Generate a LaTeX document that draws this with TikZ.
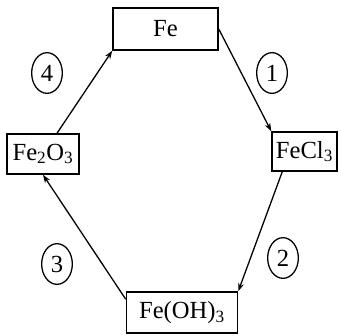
\documentclass[tikz,border=0pt]{standalone}
\usepackage{fontspec}
\setmainfont{Liberation Serif}
\usetikzlibrary{arrows.meta,positioning,shapes.geometric}

\begin{document}
\begin{tikzpicture}[
  x=0.03cm, y=-0.03cm,
  box/.style={draw,line width=1.3pt,inner sep=0pt,font=\fontsize{21}{24}\selectfont},
  num/.style={draw,ellipse,line width=1.1pt,inner sep=0pt,minimum width=0.92cm,minimum height=1.22cm,font=\fontsize{21}{24}\selectfont},
  arrow/.style={-{Stealth[length=7pt,width=5pt]},line width=1.1pt}
]
  \useasboundingbox (0,0) rectangle (341,335);
  % Compounds
  \node[box,minimum width=3.15cm,minimum height=1.26cm] (fe) at (165.5,29) {Fe};
  \node[box,minimum width=1.95cm,minimum height=1.17cm] (fecl) at (304.5,151.5) {FeCl\textsubscript{3}};
  \node[box,minimum width=3.33cm,minimum height=1.23cm] (fehy) at (182,312.5) {Fe(OH)\textsubscript{3}};
  \node[box,minimum width=2.16cm,minimum height=1.2cm] (feox) at (43,154) {Fe\textsubscript{2}O\textsubscript{3}};

  \draw[arrow] (fe.east) -- (fecl.north west);
  \draw[arrow] ([xshift=0.33cm]fecl.south west) -- (fehy.north east);
  \draw[arrow] ([yshift=-0.24cm]fehy.north west) -- (feox.south);
  \draw[arrow] ([xshift=0.42cm]feox.north) -- (fe.south west);

  % Step numbers
  \node[num] (n1) at (272,73) {1};
  \node[num] (n2) at (283,258) {2};
  \node[num] (n3) at (57,264) {3};
  \node[num] (n4) at (47,73) {4};
\end{tikzpicture}
\end{document}
